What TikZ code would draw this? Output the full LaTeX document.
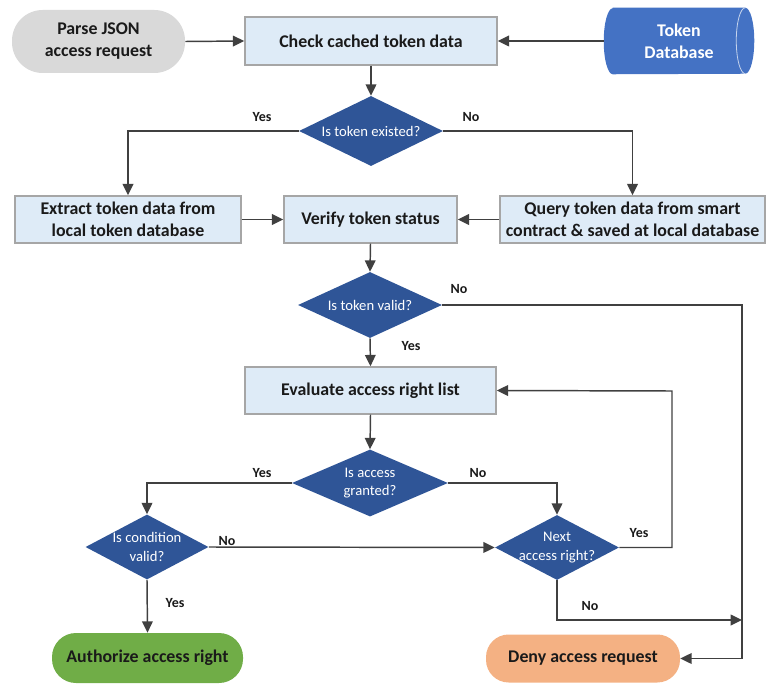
\documentclass[tikz,border=0pt]{standalone}
\usepackage{fontspec}
\setmainfont{Carlito}
\usetikzlibrary{shapes.geometric,arrows.meta,calc}

\definecolor{linegray}{HTML}{404040}
\definecolor{boxborder}{HTML}{A6A6A6}
\definecolor{boxfill}{HTML}{DEEBF7}
\definecolor{decfill}{HTML}{2F5597}
\definecolor{dbfill}{HTML}{4472C4}
\definecolor{dbedge}{HTML}{C5D3EC}
\definecolor{startfill}{HTML}{D9D9D9}
\definecolor{okfill}{HTML}{70AD47}
\definecolor{denyfill}{HTML}{F4B183}
\definecolor{textdark}{HTML}{1A1A1A}

\newcommand{\zw}[1]{\makebox[0pt]{#1}}

\tikzset{
  boxtext/.style={font=\bfseries\fontsize{13.4}{16.5}\selectfont, text=textdark, align=center},
  procbox/.style={boxtext, rectangle, draw=boxborder, line width=1.1pt, fill=boxfill, inner sep=0pt},
  terminal/.style={boxtext, rectangle, rounded corners=17pt, inner sep=0pt},
  decision/.style={diamond, fill=decfill, inner sep=0pt, shape aspect=2, text=white,
    font=\fontsize{11}{14}\selectfont, align=center},
  arr/.style={draw=linegray, line width=1.1pt, -{Triangle[length=8.5pt,width=8pt]}},
  lbl/.style={font=\bfseries\fontsize{10.5}{12}\selectfont, text=textdark, inner sep=0pt}
}

\begin{document}
\begin{tikzpicture}[x=0.75pt,y=-0.75pt]
\useasboundingbox (0,0) rectangle (767,684);

% top row
\node[terminal, fill=startfill, rounded corners=23pt, minimum width=129.75pt, minimum height=47.25pt]
  (parse) at (98.5,41.5) {Parse JSON\\access request};
\node[procbox, minimum width=189pt, minimum height=36pt] (check) at (371,41) {Check cached token data};

% token database drawn as a horizontal cylinder
\node[minimum width=112.5pt, minimum height=49.5pt, inner sep=0pt] (db) at (679,41) {};
\fill[dbfill] ($(db.north west)+(9,0)$) -- ($(db.north east)+(-9,0)$)
  arc[start angle=90, end angle=-90, x radius=6.75pt, y radius=24.75pt]
  -- ($(db.south west)+(9,0)$)
  arc[start angle=-90, end angle=-270, x radius=6.75pt, y radius=24.75pt] -- cycle;
\draw[dbedge, line width=0.6pt] ($(db.north east)+(-9,0)$)
  arc[start angle=90, end angle=270, x radius=6.75pt, y radius=24.75pt];
\node[boxtext, text=white] (dbtext) at (db.center) {Token\\Database};

% token lookup
\node[decision, minimum width=108pt, minimum height=52.5pt] (d1) at (371,131) {\zw{Is token existed?}};
\node[procbox, minimum width=169.5pt, minimum height=35.25pt] (extract) at (128,219.5)
  {Extract token data from\\local token database};
\node[procbox, minimum width=129.75pt, minimum height=35.25pt] (verify) at (370.5,219.5) {Verify token status};
\node[procbox, minimum width=198.75pt, minimum height=35.25pt] (query) at (632.5,219.5)
  {Query token data from smart\\contract \& saved at local database};

% validity
\node[decision, minimum width=108pt, minimum height=49.5pt] (d2) at (370,305) {\zw{Is token valid?}};
\node[procbox, minimum width=188.25pt, minimum height=35.25pt] (eval) at (370.5,390.5) {Evaluate access right list};

% access evaluation
\node[decision, minimum width=117pt, minimum height=50.25pt] (d3) at (370,483) {\zw{Is access}\\\zw{granted?}};
\node[decision, minimum width=92.25pt, minimum height=48.75pt] (d4) at (147,547) {\zw{Is condition}\\\zw{valid?}};
\node[decision, minimum width=93pt, minimum height=48.75pt] (d5) at (557,547.5) {\zw{Next}\\\zw{access right?}};

% outcomes
\node[terminal, fill=okfill, minimum width=143.25pt, minimum height=37.5pt, rounded corners=18pt]
  (auth) at (147.5,658) {Authorize access right};
\node[terminal, fill=denyfill, minimum width=145.5pt, minimum height=36pt]
  (deny) at (583,658.5) {Deny access request};

% routing points
\coordinate (railtop) at (742,305);
\coordinate (railjoin) at (742,620);
\coordinate (railbot) at (742,658.5);
\coordinate (loopc) at (672,391);

% connectors
\draw[arr] (parse.east) -- (check.west);
\draw[arr] (db.west) -- (check.east);
\draw[arr] (check.south) -- (d1.north);
\draw[arr] (d1.west) -| (extract.north);
\draw[arr] (d1.east) -| (query.north);
\draw[arr] (extract.east) -- (verify.west);
\draw[arr] (query.west) -- (verify.east);
\draw[arr] (verify.south) -- (d2.north);
\draw[arr] (d2.south) -- (eval.north);
\draw[arr] (d2.east) -- (railtop) -- (railbot) -- (deny.east);
\draw[arr] (eval.south) -- (d3.north);
\draw[arr] (d3.west) -| (d4.north);
\draw[arr] (d3.east) -| (d5.north);
\draw[arr] (d4.east) -- (d5.west);
\draw[arr] (d4.south) -- (auth.north);
\draw[arr] (d5.east) -| (loopc) -- (eval.east);
\draw[arr] (d5.south) |- (railjoin);

% branch labels
\node[lbl] (l1y) at (262,117) {Yes};
\node[lbl] (l1n) at (471,117) {No};
\node[lbl] (l2n) at (459,289) {No};
\node[lbl] (l2y) at (411,346) {Yes};
\node[lbl] (l3y) at (262,473) {Yes};
\node[lbl] (l3n) at (478,473) {No};
\node[lbl] (l4n) at (227,541) {No};
\node[lbl] (l4y) at (175,603) {Yes};
\node[lbl] (l5y) at (639,533) {Yes};
\node[lbl] (l5n) at (590,606) {No};
\end{tikzpicture}
\end{document}
